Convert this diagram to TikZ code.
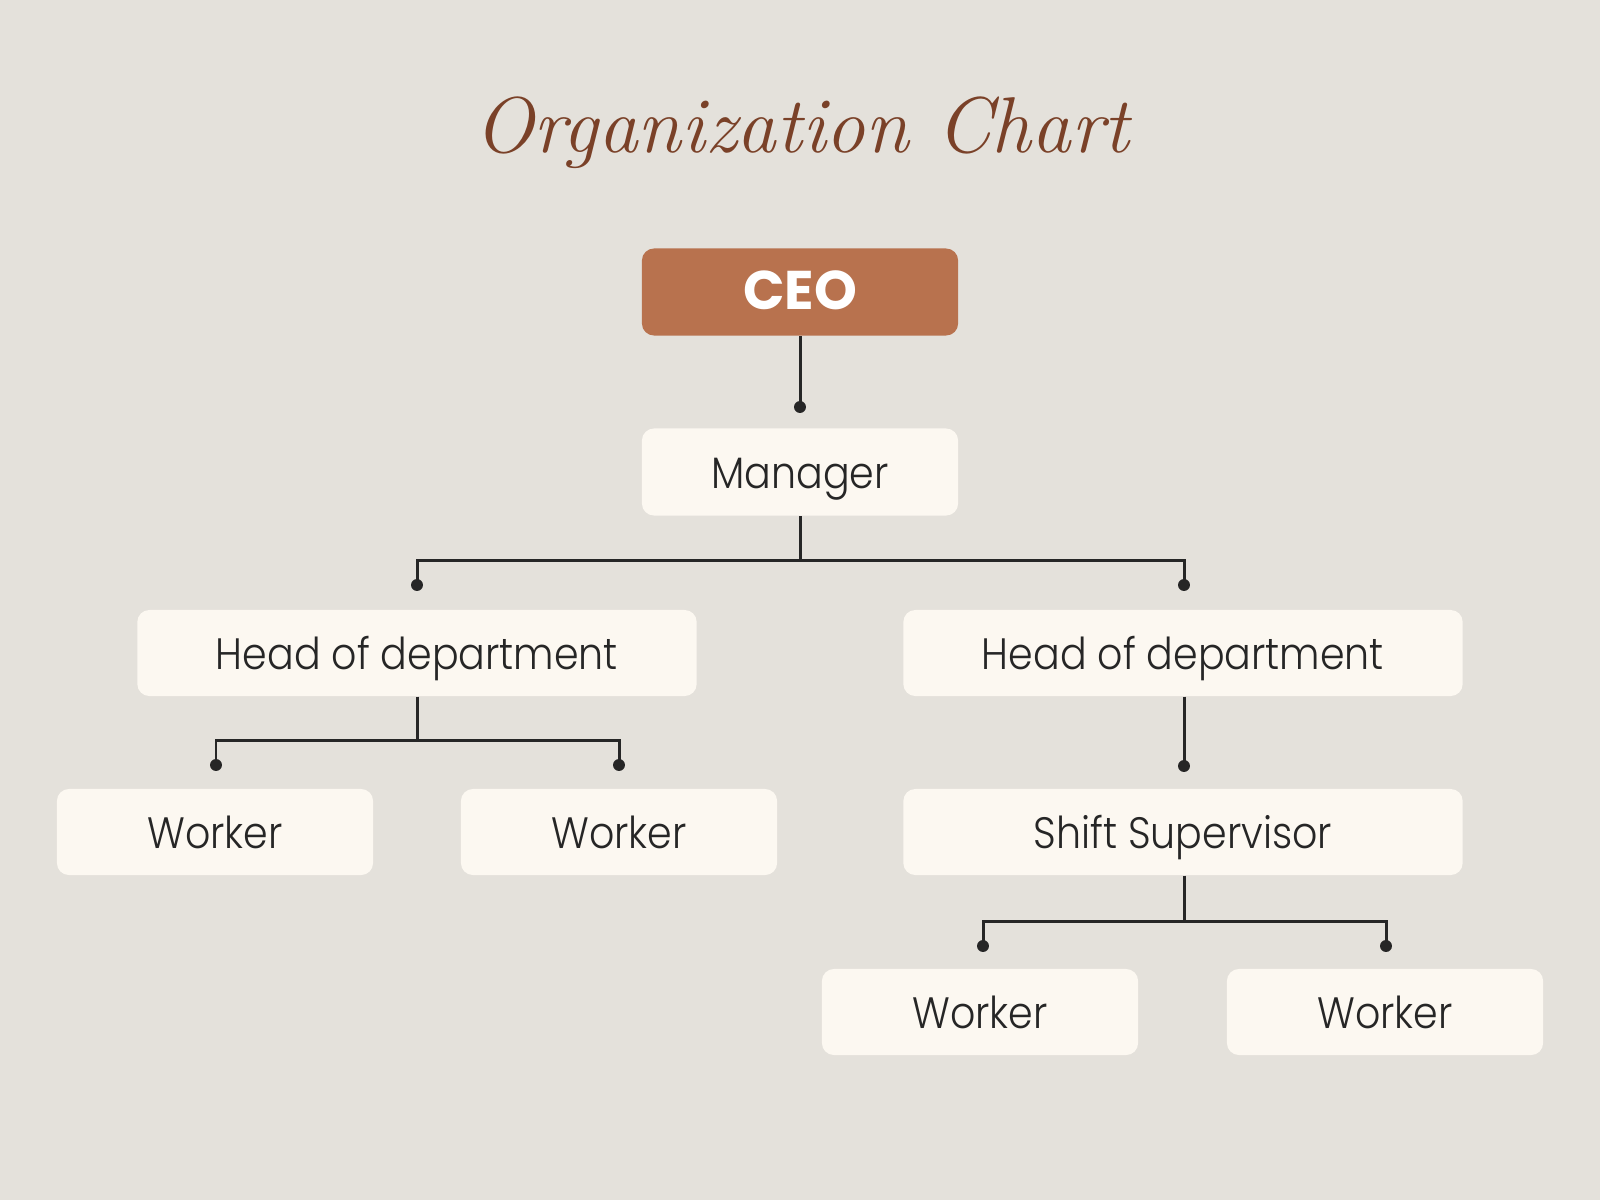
\documentclass[tikz,border=0pt]{standalone}
\usepackage{fontspec}
\setmainfont{Poppins}[UprightFont=* Light,FakeStretch=0.9]
\newfontfamily\ceofont{Poppins}
\newfontfamily\titlefont{Latin Modern Roman}
\usepackage{tikz}
\definecolor{paper}{HTML}{E4E1DB}
\definecolor{cream}{HTML}{FCF8F1}
\definecolor{rust}{HTML}{B8724E}
\definecolor{cocoa}{HTML}{7A4128}
\definecolor{ink}{HTML}{262626}
\begin{document}
\begin{tikzpicture}[x=0.01cm,y=-0.01cm,
  box/.style={fill=cream,rounded corners=0.12cm,minimum height=0.86cm,inner sep=0pt,
    text height=0.32cm,text depth=0pt,text=ink,font=\fontsize{12.5}{15}\selectfont},
  smallbox/.style={box,minimum width=3.16cm},
  widebox/.style={box,minimum width=5.59cm},
  link/.style={draw=ink,line width=0.85pt}]
\useasboundingbox (0,0) rectangle (1600,1200);
\fill [paper] (0,0) rectangle (1600,1200);

\node (title) [text=cocoa,font=\titlefont\itshape\fontsize{22.5}{27}\selectfont] at (802,133) {Organization Chart};

\node (ceo) [smallbox,fill=rust,text=white,minimum height=0.87cm,text height=0.35cm,font=\ceofont\bfseries\fontsize{15.5}{18}\selectfont] at (800,292) {CEO};
\node (mgr) [smallbox,minimum height=0.87cm] at (800,472) {Manager};
\node (hodL) [widebox] at (417,653) {Head of department};
\node (hodR) [widebox] at (1183,653) {Head of department};
\node (wk1) [smallbox] at (215,832) {Worker};
\node (wk2) [smallbox] at (619,832) {Worker};
\node (sup) [widebox] at (1183,832) {Shift Supervisor};
\node (wk3) [smallbox] at (980,1012) {Worker};
\node (wk4) [smallbox] at (1385,1012) {Worker};

\coordinate (dMgr) at (800,407);
\coordinate (jMgr) at (800,560);
\coordinate (dHodL) at (417,585);
\coordinate (dHodR) at (1184,585);
\coordinate (jHodL) at (417,740);
\coordinate (dWk1) at (216,765);
\coordinate (dWk2) at (619,765);
\coordinate (dSup) at (1184,766);
\coordinate (jSup) at (1184,921);
\coordinate (dWk3) at (983,946);
\coordinate (dWk4) at (1386,946);

\draw [link] (ceo.south) -- (dMgr);
\draw [link] (mgr.south) -- (jMgr) (dHodL) |- (jMgr) -| (dHodR);
\draw [link] (hodL.south) -- (jHodL) (dWk1) |- (jHodL) -| (dWk2);
\draw [link] (hodR.south -| dSup) -- (dSup);
\draw [link] (sup.south -| jSup) -- (jSup) (dWk3) |- (jSup) -| (dWk4);
\foreach \d in {dMgr,dHodL,dHodR,dWk1,dWk2,dSup,dWk3,dWk4}
  \fill [ink] (\d) circle [radius=1.7pt];
\end{tikzpicture}
\end{document}
